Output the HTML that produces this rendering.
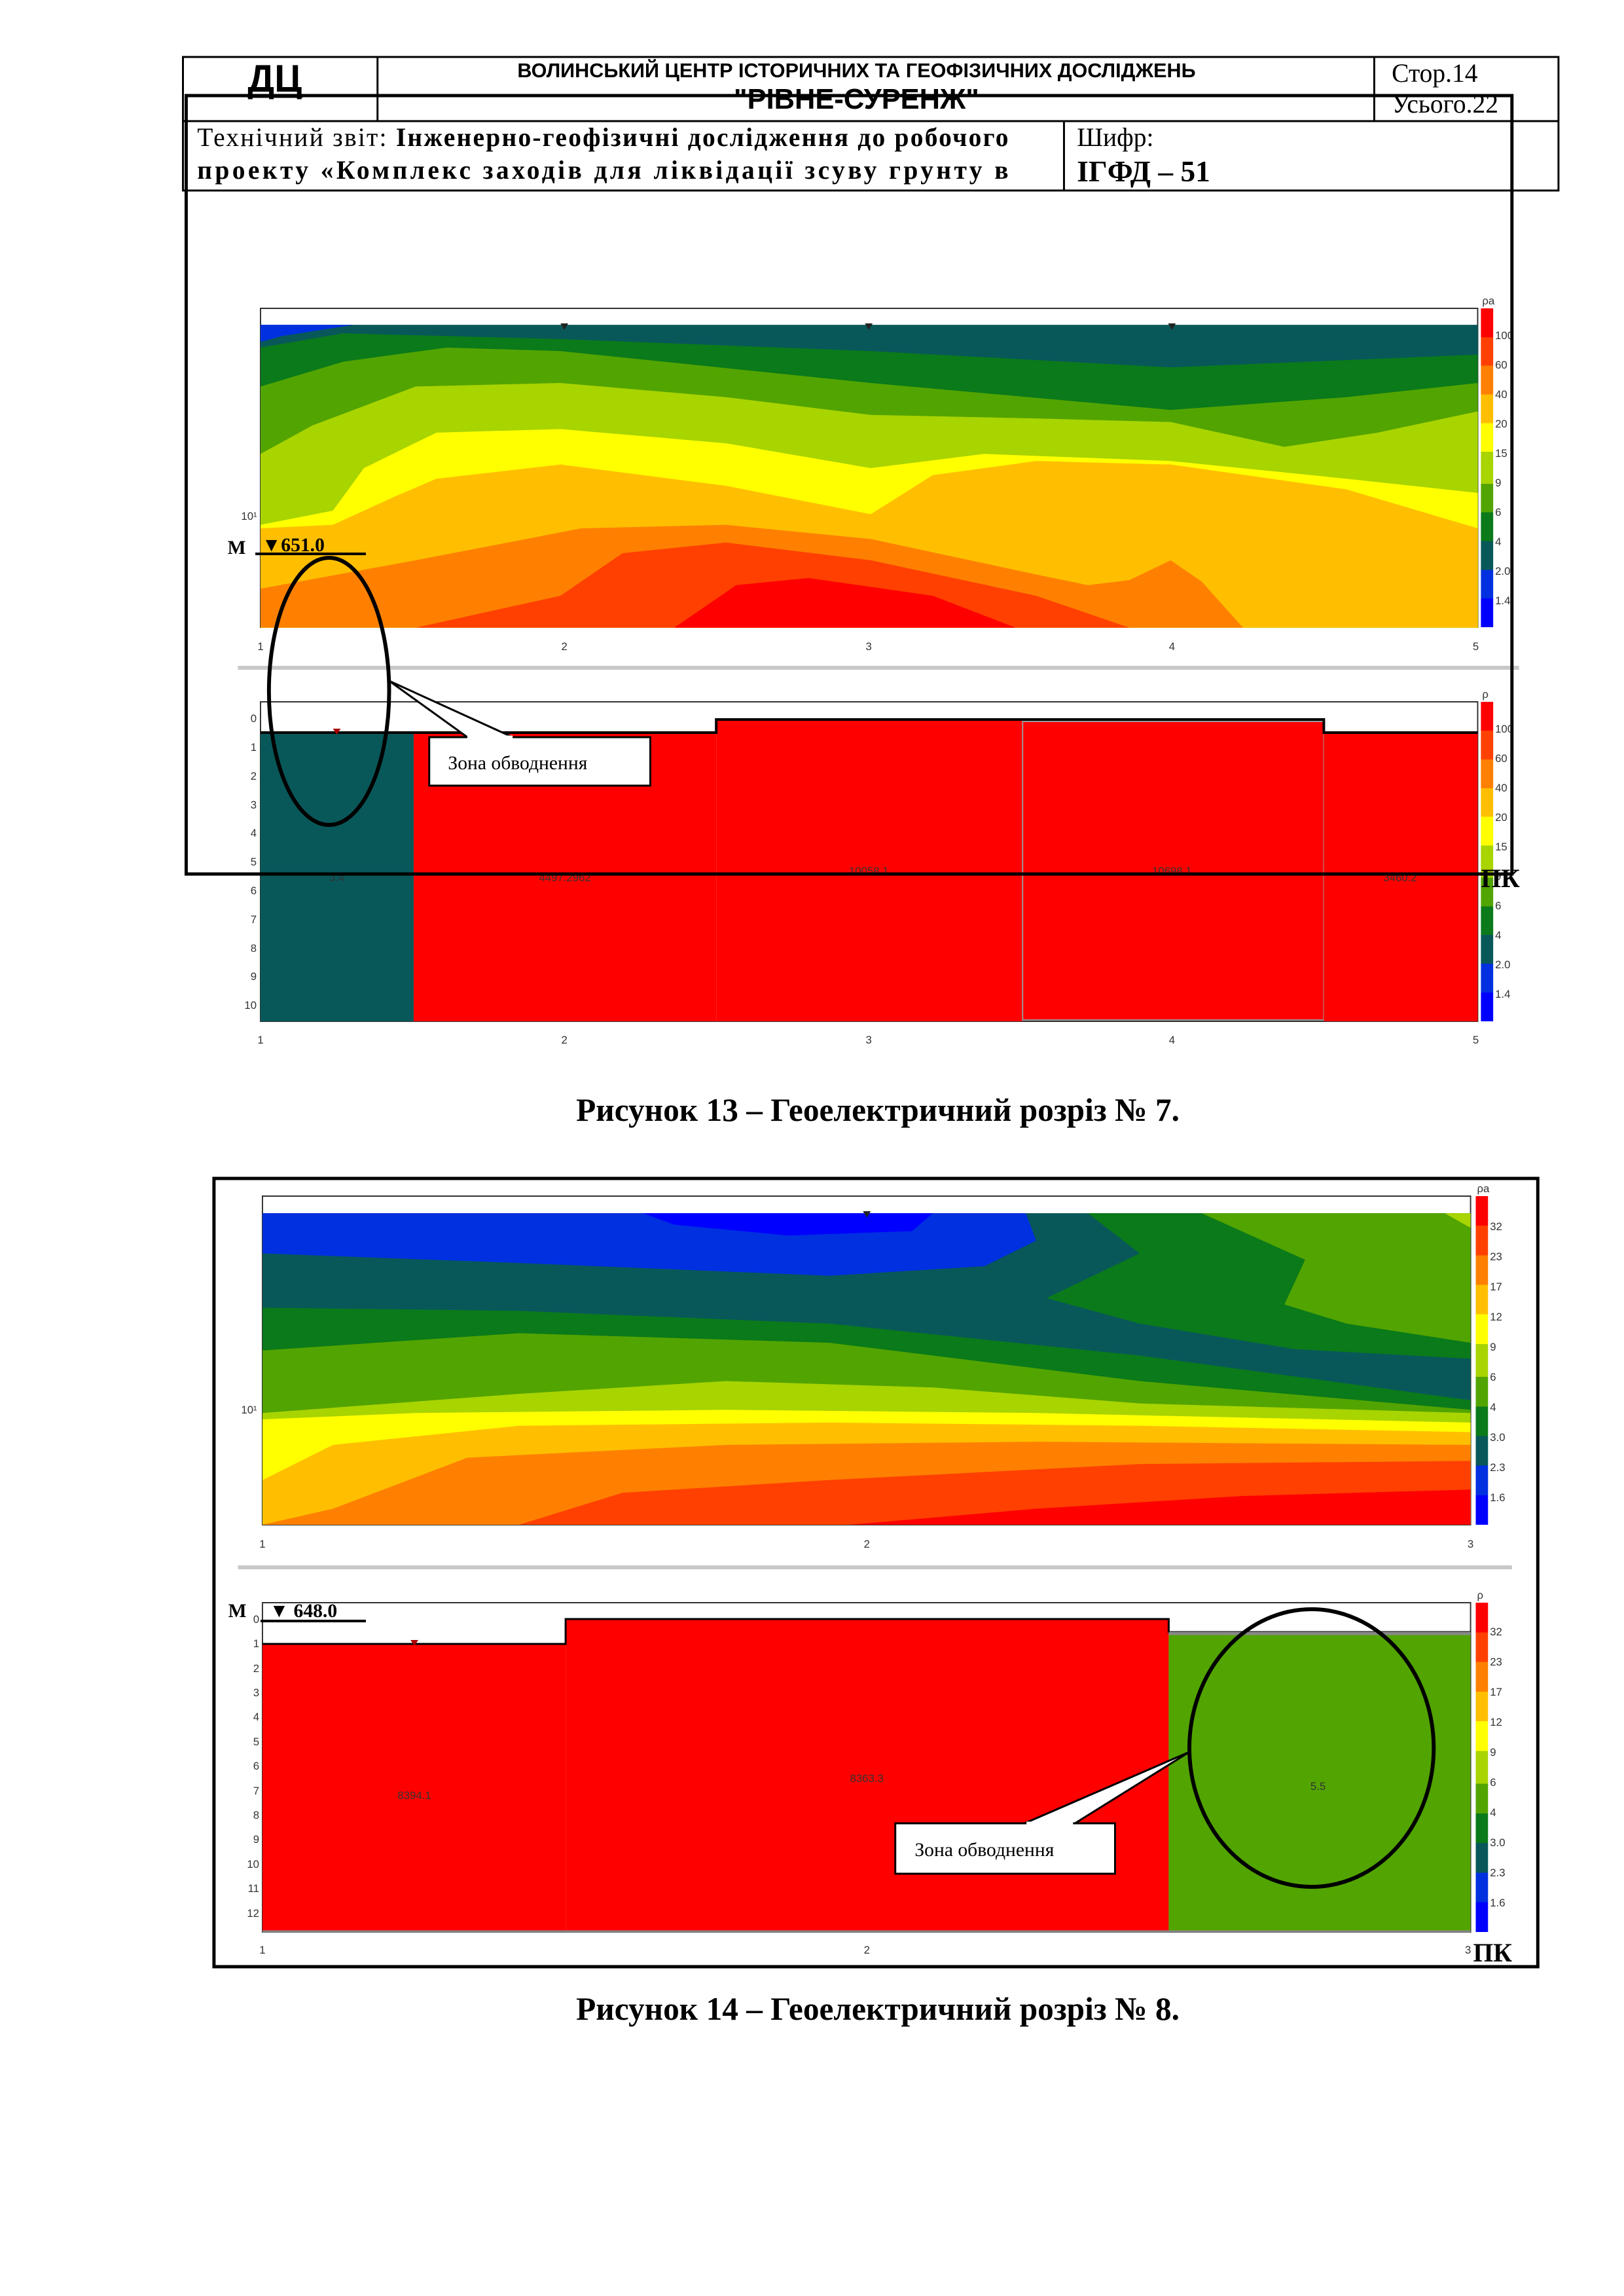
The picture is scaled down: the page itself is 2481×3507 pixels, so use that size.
<!DOCTYPE html>
<html><head><meta charset="utf-8"><style>
html,body{margin:0;padding:0;background:#fff;}
svg{display:block;}
.s{font-family:"Liberation Sans",sans-serif;}
.r{font-family:"Liberation Serif",serif;}
.t{font-family:"Liberation Sans",sans-serif;font-size:17px;fill:#333;}
</style></head><body>
<svg width="2481" height="3507" viewBox="0 0 2481 3507" xmlns="http://www.w3.org/2000/svg">
<defs>
<linearGradient id="cb" x1="0" y1="0" x2="0" y2="1">
<stop offset="0" stop-color="#ff0000"/><stop offset=".09" stop-color="#ff0000"/>
<stop offset=".09" stop-color="#ff4000"/><stop offset=".18" stop-color="#ff4000"/>
<stop offset=".18" stop-color="#ff8000"/><stop offset=".27" stop-color="#ff8000"/>
<stop offset=".27" stop-color="#ffbf00"/><stop offset=".36" stop-color="#ffbf00"/>
<stop offset=".36" stop-color="#ffff00"/><stop offset=".45" stop-color="#ffff00"/>
<stop offset=".45" stop-color="#a8d400"/><stop offset=".55" stop-color="#a8d400"/>
<stop offset=".55" stop-color="#52a400"/><stop offset=".64" stop-color="#52a400"/>
<stop offset=".64" stop-color="#0a7a1a"/><stop offset=".73" stop-color="#0a7a1a"/>
<stop offset=".73" stop-color="#08585a"/><stop offset=".82" stop-color="#08585a"/>
<stop offset=".82" stop-color="#0030e0"/><stop offset=".91" stop-color="#0030e0"/>
<stop offset=".91" stop-color="#0000ff"/><stop offset="1" stop-color="#0000ff"/>
</linearGradient>
</defs>
<g transform="translate(3,0) scale(0.9875,1)">
<!-- Header -->
<g stroke="#000" stroke-width="3" fill="none">
<rect x="280" y="87" width="2128" height="204"/>
<line x1="581" y1="87" x2="581" y2="185"/>
<line x1="2123" y1="87" x2="2123" y2="185"/>
<line x1="280" y1="185" x2="2408" y2="185"/>
<line x1="1643" y1="185" x2="1643" y2="291"/>
</g>
<text x="422" y="140" class="s" font-size="58" font-weight="bold" text-anchor="middle">ДЦ</text>
<line x1="380" y1="148" x2="465" y2="148" stroke="#000" stroke-width="3"/>
<text x="1322" y="118" class="s" font-size="31" font-weight="bold" text-anchor="middle">ВОЛИНСЬКИЙ ЦЕНТР ІСТОРИЧНИХ ТА ГЕОФІЗИЧНИХ ДОСЛІДЖЕНЬ</text>
<text x="1322" y="166" class="s" font-size="44" font-weight="bold" text-anchor="middle">"РІВНЕ-СУРЕНЖ"</text>
<text x="2150" y="125" class="r" font-size="40">Стор.14</text>
<text x="2150" y="172" class="r" font-size="40">Усього.22</text>
<text x="302" y="223" class="r" font-size="40" textLength="1255" lengthAdjust="spacing">Технічний звіт: <tspan font-weight="bold">Інженерно-геофізичні дослідження до робочого</tspan></text>
<text x="302" y="273" class="r" font-size="40" font-weight="bold" textLength="1255" lengthAdjust="spacing">проекту «Комплекс заходів для ліквідації зсуву грунту в</text>
<text x="1663" y="223" class="r" font-size="40">Шифр:</text>
<text x="1663" y="277" class="r" font-size="46" font-weight="bold">ІГФД – 51</text>

<!-- Chart 1 -->
<rect x="400" y="471" width="1883" height="487" fill="#fff" stroke="#333" stroke-width="2"/>
<g transform="scale(1.6 1.0833)">
<rect x="250" y="458" width="1177" height="427" fill="#08585a"/>
<polygon fill="#0030e0" points="250,458 340,458 270,474 250,482"/>
<polygon fill="#0a7a1a" points="250,490 330,470 540,478 840,495 1130,518 1427,500 1427,885 250,885"/>
<polygon fill="#52a400" points="250,545 330,510 430,490 540,495 840,540 1130,578 1300,560 1427,540 1427,885 250,885"/>
<polygon fill="#a8d400" points="250,640 300,600 400,545 540,540 700,560 840,585 1000,590 1130,595 1240,630 1330,610 1427,580 1427,885 250,885"/>
<polygon fill="#ffff00" points="250,740 320,720 350,660 420,610 540,605 700,625 840,660 950,640 1130,650 1300,675 1427,695 1427,885 250,885"/>
<polygon fill="#ffbf00" points="250,745 320,740 380,700 420,675 540,655 700,685 840,725 900,670 1000,650 1130,655 1300,690 1427,745 1427,885 250,885"/>
<polygon fill="#ff8000" points="250,830 400,790 560,745 700,740 840,760 1000,810 1050,825 1090,818 1130,790 1160,820 1200,885 250,885"/>
<polygon fill="#ff4000" points="400,885 540,840 600,780 700,765 840,790 1000,840 1090,885"/>
<polygon fill="#ff0000" points="650,885 710,825 780,815 900,840 980,885"/>
</g>
<g fill="#222"><path d="M864,494 h12 l-6,10z"/><path d="M1335,494 h12 l-6,10z"/><path d="M1804,494 h12 l-6,10z"/></g>
<rect x="2288" y="471" width="19" height="487" fill="url(#cb)"/>
<text x="2290" y="465" class="t">ρa</text>
<g class="t"><text x="2310" y="518">100</text><text x="2310" y="563">60</text><text x="2310" y="608">40</text><text x="2310" y="653">20</text><text x="2310" y="698">15</text><text x="2310" y="743">9</text><text x="2310" y="788">6</text><text x="2310" y="833">4</text><text x="2310" y="878">2.0</text><text x="2310" y="923">1.4</text></g>
<text x="370" y="794" class="t">10¹</text>
<g class="t" text-anchor="middle"><text x="400" y="993">1</text><text x="870" y="993">2</text><text x="1341" y="993">3</text><text x="1810" y="993">4</text><text x="2280" y="993">5</text></g>
<text x="349" y="846" class="r" font-size="30" font-weight="bold">М</text>
<text x="402" y="842" class="r" font-size="30" font-weight="bold">▼651.0</text>
<line x1="392" y1="846" x2="563" y2="846" stroke="#000" stroke-width="4"/>

<rect x="365" y="1017" width="1982" height="6" fill="#c8c8c8"/>

<!-- Chart 2 -->
<rect x="400" y="1072" width="1883" height="488" fill="#fff" stroke="#333" stroke-width="2"/>
<rect x="400" y="1119" width="237" height="441" fill="#08585a"/>
<rect x="637" y="1119" width="468" height="441" fill="#ff0000"/>
<rect x="1105" y="1099" width="474" height="461" fill="#ff0000"/>
<rect x="1579" y="1102" width="466" height="456" fill="#ff0000" stroke="#999" stroke-width="2"/>
<rect x="2045" y="1119" width="238" height="441" fill="#ff0000"/>
<path d="M400,1119 H1105 V1099 H2045 V1119 H2283" fill="none" stroke="#000" stroke-width="4"/>
<path d="M512,1113 h12 l-6,9z" fill="#a00"/>
<g class="t" font-size="14" text-anchor="middle"><text x="518" y="1346">3.4</text><text x="871" y="1346">4497.2962</text><text x="1341" y="1336">10058.1</text><text x="1810" y="1336">10698.1</text><text x="2163" y="1346">3460.2</text></g>
<rect x="2288" y="1072" width="19" height="488" fill="url(#cb)"/>
<text x="2290" y="1066" class="t">ρ</text>
<g class="t"><text x="2310" y="1119">100</text><text x="2310" y="1164">60</text><text x="2310" y="1209">40</text><text x="2310" y="1254">20</text><text x="2310" y="1299">15</text><text x="2310" y="1344">9</text><text x="2310" y="1389">6</text><text x="2310" y="1434">4</text><text x="2310" y="1479">2.0</text><text x="2310" y="1524">1.4</text></g>
<g class="t" text-anchor="end"><text x="394" y="1103">0</text><text x="394" y="1147">1</text><text x="394" y="1191">2</text><text x="394" y="1235">3</text><text x="394" y="1278">4</text><text x="394" y="1322">5</text><text x="394" y="1366">6</text><text x="394" y="1410">7</text><text x="394" y="1454">8</text><text x="394" y="1497">9</text><text x="394" y="1541">10</text></g>
<g class="t" text-anchor="middle"><text x="400" y="1594">1</text><text x="870" y="1594">2</text><text x="1341" y="1594">3</text><text x="1810" y="1594">4</text><text x="2280" y="1594">5</text></g>

<!-- overlay rect & annotations -->
<rect x="285" y="146" width="2051" height="1189" fill="none" stroke="#000" stroke-width="5"/>
<text x="2288" y="1355" class="r" font-size="40" font-weight="bold">ПК</text>
<ellipse cx="506" cy="1056" rx="93" ry="204" fill="none" stroke="#000" stroke-width="6"/>
<polygon points="599,1040 790,1126 720,1126" fill="#fff" stroke="#000" stroke-width="3"/>
<rect x="661" y="1126" width="342" height="74" fill="#fff" stroke="#000" stroke-width="3"/>
<line x1="720" y1="1126" x2="790" y2="1126" stroke="#fff" stroke-width="5"/>
<text x="690" y="1175" class="r" font-size="30">Зона обводнення</text>

<text x="1355" y="1712" class="r" font-size="50" font-weight="bold" text-anchor="middle">Рисунок 13 – Геоелектричний розріз № 7.</text>

<!-- Figure 14 -->
<rect x="328" y="1800" width="2048" height="1204" fill="none" stroke="#000" stroke-width="5"/>
<rect x="403" y="1827" width="1869" height="502" fill="#fff" stroke="#333" stroke-width="2"/>
<g transform="translate(0 1700) scale(1.6 0.975)">
<rect x="252" y="157" width="1168" height="488" fill="#08585a"/>
<polygon fill="#0030e0" points="252,157 990,157 1000,200 950,240 800,255 500,235 252,220"/>
<polygon fill="#0000ff" points="620,157 900,157 880,185 760,192 650,175"/>
<polygon fill="#0a7a1a" points="1050,157 1100,220 1010,290 1100,330 1250,370 1420,385 1420,157"/>
<polygon fill="#52a400" points="1160,157 1260,230 1240,300 1300,330 1420,360 1420,157"/>
<polygon fill="#a8d400" points="1395,157 1420,157 1420,180"/>
<polygon fill="#0a7a1a" points="252,305 500,310 800,330 1100,380 1420,450 1420,645 252,645"/>
<polygon fill="#52a400" points="252,372 500,345 800,360 1100,420 1420,465 1420,645 252,645"/>
<polygon fill="#a8d400" points="252,470 500,440 700,420 900,430 1100,455 1420,470 1420,645 252,645"/>
<polygon fill="#ffff00" points="252,480 400,470 700,465 1000,470 1420,485 1420,645 252,645"/>
<polygon fill="#ffbf00" points="252,575 320,520 500,490 800,485 1100,490 1420,500 1420,645 252,645"/>
<polygon fill="#ff8000" points="252,645 320,620 450,540 700,520 1000,515 1420,520 1420,645"/>
<polygon fill="#ff4000" points="500,645 600,595 800,575 1100,550 1420,545 1420,645"/>
<polygon fill="#ff0000" points="820,645 1000,620 1200,600 1420,590 1420,645"/>
</g>
<path d="M1332,1850 h12 l-6,10z" fill="#222"/>
<rect x="2280" y="1827" width="19" height="502" fill="url(#cb)"/>
<text x="2282" y="1821" class="t">ρa</text>
<g class="t"><text x="2302" y="1879">32</text><text x="2302" y="1925">23</text><text x="2302" y="1971">17</text><text x="2302" y="2017">12</text><text x="2302" y="2063">9</text><text x="2302" y="2109">6</text><text x="2302" y="2155">4</text><text x="2302" y="2201">3.0</text><text x="2302" y="2247">2.3</text><text x="2302" y="2293">1.6</text></g>
<text x="370" y="2159" class="t">10¹</text>
<g class="t" text-anchor="middle"><text x="403" y="2364">1</text><text x="1338" y="2364">2</text><text x="2272" y="2364">3</text></g>

<rect x="365" y="2391" width="1971" height="6" fill="#c8c8c8"/>

<rect x="403" y="2448" width="1869" height="503" fill="#fff" stroke="#333" stroke-width="2"/>
<rect x="403" y="2511" width="469" height="440" fill="#ff0000"/>
<rect x="872" y="2473" width="933" height="478" fill="#ff0000"/>
<rect x="1805" y="2493" width="467" height="458" fill="#52a400"/>
<path d="M403,2511 H872 V2473 H1805 V2493 H2272" fill="none" stroke="#000" stroke-width="3"/>
<line x1="1805" y1="2495" x2="2272" y2="2495" stroke="#888" stroke-width="5"/>
<line x1="403" y1="2950" x2="2272" y2="2950" stroke="#888" stroke-width="3"/>
<path d="M632,2505 h12 l-6,9z" fill="#a00"/>
<g class="t" font-size="14" text-anchor="middle"><text x="638" y="2748">8394.1</text><text x="1338" y="2722">8363.3</text><text x="2036" y="2734">5.5</text></g>
<rect x="2280" y="2448" width="19" height="503" fill="url(#cb)"/>
<text x="2282" y="2442" class="t">ρ</text>
<g class="t"><text x="2302" y="2498">32</text><text x="2302" y="2544">23</text><text x="2302" y="2590">17</text><text x="2302" y="2636">12</text><text x="2302" y="2682">9</text><text x="2302" y="2728">6</text><text x="2302" y="2774">4</text><text x="2302" y="2820">3.0</text><text x="2302" y="2866">2.3</text><text x="2302" y="2912">1.6</text></g>
<g class="t" text-anchor="end"><text x="398" y="2479">0</text><text x="398" y="2516">1</text><text x="398" y="2554">2</text><text x="398" y="2591">3</text><text x="398" y="2628">4</text><text x="398" y="2666">5</text><text x="398" y="2703">6</text><text x="398" y="2741">7</text><text x="398" y="2778">8</text><text x="398" y="2815">9</text><text x="398" y="2853">10</text><text x="398" y="2890">11</text><text x="398" y="2928">12</text></g>
<g class="t" text-anchor="middle"><text x="403" y="2984">1</text><text x="1338" y="2984">2</text><text x="2268" y="2984">3</text></g>
<text x="350" y="2470" class="r" font-size="30" font-weight="bold">М</text>
<text x="414" y="2470" class="r" font-size="30" font-weight="bold">▼ 648.0</text>
<line x1="400" y1="2476" x2="563" y2="2476" stroke="#000" stroke-width="4"/>
<text x="2276" y="2996" class="r" font-size="40" font-weight="bold">ПК</text>

<ellipse cx="2026" cy="2670" rx="189" ry="212" fill="none" stroke="#000" stroke-width="6"/>
<polygon points="1837,2676 1660,2785 1582,2785" fill="#fff" stroke="#000" stroke-width="3"/>
<rect x="1382" y="2785" width="340" height="77" fill="#fff" stroke="#000" stroke-width="3"/>
<line x1="1585" y1="2785" x2="1657" y2="2785" stroke="#fff" stroke-width="5"/>
<text x="1412" y="2835" class="r" font-size="30">Зона обводнення</text>

<text x="1355" y="3085" class="r" font-size="50" font-weight="bold" text-anchor="middle">Рисунок 14 – Геоелектричний розріз № 8.</text>
</g>
</svg>
</body></html>
